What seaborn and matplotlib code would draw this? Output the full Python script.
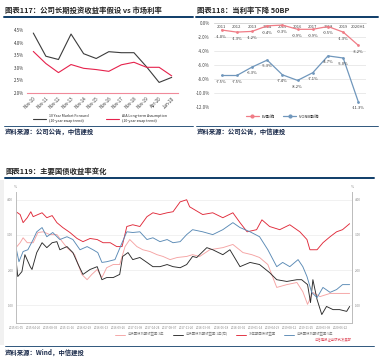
import numpy as np
import pandas as pd
import seaborn as sns
from matplotlib import pyplot as plt
from matplotlib.lines import Line2D
from matplotlib.patches import Rectangle

# ---- chart 117 data
aia_dates = ["Nov-10", "Nov-11", "Nov-12", "Nov-13", "Nov-14", "Nov-15",
             "Nov-16", "Nov-17", "Nov-18", "Nov-19", "Apr-20", "Jun-20"]
market_fwd = [4.38, 3.46, 3.33, 4.34, 3.56, 3.37, 3.64, 3.60, 3.60, 3.04, 2.42, 2.62]
aia_assume = [3.65, 3.17, 2.81, 3.13, 2.98, 2.93, 2.86, 3.12, 3.22, 3.02, 3.02, 2.68]

# ---- chart 118 data
years = ["2011", "2012", "2013", "2014", "2015", "2016", "2017", "2018", "2019", "2020H1"]
ev_impact = [-1.0, -1.3, -1.2, -0.4, -0.3, -0.9, -0.9, -0.5, -1.3, -3.2]
vonb_impact = [-7.5, -7.5, -6.3, -5.3, -7.4, -8.2, -7.1, -4.7, -5.0, -11.3]

# ---- chart 119 data (decimal year, yield %)
red_t = [2015.00, 2015.07, 2015.12, 2015.19, 2015.25, 2015.29, 2015.37, 2015.44, 2015.52, 2015.61,
         2015.69, 2015.79, 2015.91, 2016.03, 2016.13, 2016.25, 2016.37, 2016.47, 2016.59, 2016.70,
         2016.79, 2016.87, 2016.97, 2017.09, 2017.21, 2017.31, 2017.43, 2017.55, 2017.65, 2017.77,
         2017.88, 2017.93, 2018.15, 2018.32, 2018.49, 2018.66, 2018.78, 2018.90, 2019.06, 2019.15,
         2019.28, 2019.45, 2019.62, 2019.79, 2019.91, 2019.96, 2020.08, 2020.18, 2020.30, 2020.41,
         2020.51, 2020.63]
red_v = [3.66, 3.58, 3.35, 3.49, 3.66, 3.52, 3.58, 3.63, 3.49, 3.55,
         3.35, 3.21, 3.07, 2.90, 2.81, 2.90, 2.87, 2.78, 2.78, 2.67,
         2.67, 3.24, 3.29, 3.24, 3.52, 3.63, 3.58, 3.63, 3.66, 3.94,
         4.00, 3.80, 3.58, 3.63, 3.49, 3.63, 3.35, 3.09, 3.15, 3.43,
         3.24, 3.15, 3.29, 3.09, 2.87, 2.58, 2.58, 2.78, 2.95, 3.09,
         3.15, 3.32]

blue_t = [2015.00, 2015.05, 2015.12, 2015.20, 2015.29, 2015.35, 2015.44, 2015.52, 2015.62, 2015.74,
          2015.86, 2015.96, 2016.08, 2016.20, 2016.30, 2016.38, 2016.45, 2016.53, 2016.67, 2016.79,
          2016.87, 2016.97, 2017.09, 2017.21, 2017.31, 2017.43, 2017.55, 2017.65, 2017.77, 2017.88,
          2017.98, 2018.15, 2018.32, 2018.49, 2018.66, 2018.78, 2018.95, 2019.11, 2019.25, 2019.40,
          2019.50, 2019.62, 2019.76, 2019.84, 2019.91, 2019.99, 2020.08, 2020.18, 2020.30, 2020.41,
          2020.51, 2020.63]
blue_v = [2.64, 2.24, 2.53, 2.58, 2.87, 3.09, 3.21, 2.95, 3.07, 2.87,
          2.95, 2.87, 2.58, 2.67, 2.58, 2.50, 2.22, 2.24, 2.30, 2.78,
          3.09, 3.07, 3.09, 2.87, 2.92, 2.81, 2.87, 2.78, 2.81, 3.01,
          3.15, 3.09, 3.01, 3.15, 3.35, 3.21, 3.09, 2.95, 2.58, 2.10,
          2.22, 2.10, 2.30, 2.10, 1.82, 1.37, 1.22, 1.51, 1.37, 1.45,
          1.59, 1.59]

pink_t = [2015.00, 2015.07, 2015.12, 2015.19, 2015.29, 2015.37, 2015.46, 2015.57, 2015.69, 2015.78,
          2015.86, 2015.99, 2016.11, 2016.20, 2016.28, 2016.37, 2016.45, 2016.53, 2016.64, 2016.75,
          2016.84, 2016.92, 2017.04, 2017.14, 2017.26, 2017.38, 2017.48, 2017.60, 2017.72, 2017.88,
          2017.98, 2018.10, 2018.27, 2018.49, 2018.66, 2018.83, 2018.98, 2019.11, 2019.25, 2019.40,
          2019.57, 2019.74, 2019.84, 2019.92, 2020.01, 2020.13, 2020.30, 2020.46, 2020.63]
pink_v = [2.64, 2.78, 2.92, 2.78, 2.78, 3.07, 3.09, 3.01, 3.01, 2.81,
          2.64, 2.44, 1.88, 1.73, 1.88, 2.02, 1.79, 2.07, 2.16, 2.16,
          2.67, 2.87, 2.67, 2.58, 2.53, 2.44, 2.39, 2.30, 2.36, 2.39,
          2.44, 2.39, 2.58, 2.64, 2.73, 2.50, 2.44, 2.36, 2.16, 1.51,
          1.59, 1.65, 1.39, 1.03, 1.37, 1.25, 1.34, 1.34, 1.34]

black_t = [2015.00, 2015.03, 2015.10, 2015.15, 2015.24, 2015.27, 2015.35, 2015.44, 2015.52, 2015.61,
           2015.69, 2015.74, 2015.86, 2015.96, 2016.05, 2016.13, 2016.25, 2016.37, 2016.45, 2016.53,
           2016.64, 2016.75, 2016.80, 2016.89, 2016.97, 2017.09, 2017.21, 2017.31, 2017.43, 2017.55,
           2017.65, 2017.77, 2017.88, 2017.98, 2018.05, 2018.22, 2018.32, 2018.49, 2018.61, 2018.78,
           2018.95, 2019.11, 2019.28, 2019.40, 2019.57, 2019.74, 2019.82, 2019.92, 2019.97, 2020.01,
           2020.08, 2020.16, 2020.24, 2020.35, 2020.46, 2020.58, 2020.63]
black_v = [2.30, 1.82, 1.96, 2.44, 2.10, 2.02, 2.50, 2.78, 2.64, 2.78,
           2.81, 2.58, 2.67, 2.50, 2.16, 1.88, 2.02, 2.10, 1.73, 1.79,
           1.79, 1.88, 2.39, 2.50, 2.30, 2.36, 2.22, 2.10, 2.10, 2.16,
           2.10, 2.07, 2.16, 2.39, 2.36, 2.64, 2.58, 2.44, 2.58, 2.10,
           2.22, 2.16, 1.93, 1.73, 1.68, 1.73, 1.73, 1.59, 1.08, 1.73,
           1.17, 0.74, 0.97, 0.88, 0.88, 0.83, 0.97]

bond_ticks = ["2015-01-05", "2015-04-20", "2015-08-03", "2015-11-16", "2016-02-29",
              "2016-06-13", "2016-09-26", "2017-01-09", "2017-04-24", "2017-08-07",
              "2017-11-20", "2018-03-05", "2018-06-18", "2018-10-01", "2019-01-14",
              "2019-04-29", "2019-08-12", "2019-11-25", "2020-03-09", "2020-06-22"]
bond_names = ["中债国债到期收益率:3年", "中债国债到期收益率:1年(右)",
              "10年期国债收益率", "中债国债到期收益率:5年"]

W, H = 385, 359
NAVY = "#0E3C68"

sns.set_theme(style="white")
plt.rcParams['font.family'] = ['Noto Sans CJK SC', 'DejaVu Sans']
plt.rcParams['axes.unicode_minus'] = False

fig = plt.figure(figsize=(W / 100, H / 100), dpi=100)
fig.patch.set_facecolor("white")


def box(l, t, r, b):
    return fig.add_axes([l / W, 1 - b / H, (r - l) / W, (b - t) / H])


def ftext(x, y, s, **kw):
    fig.text(x / W, 1 - y / H, s, **kw)


def hline(x0, x1, y, lw, color=NAVY):
    fig.add_artist(Line2D([x0 / W, x1 / W], [1 - y / H, 1 - y / H], color=color, lw=lw))


# faint page-edge shadow on the left
fig.add_artist(Rectangle((0, 1 - 345 / H), 4 / W, 165 / H, transform=fig.transFigure,
                         color="#f1f1f1", lw=0, zorder=-1))

# headers / footers
ftext(5, 10, "图表117：公司长期投资收益率假设 vs 市场利率", fontsize=5.3, fontweight="bold", va="center")
ftext(197, 10, "图表118：当利率下降 50BP", fontsize=5.3, fontweight="bold", va="center")
ftext(5, 171, "图表119：主要国债收益率变化", fontsize=5.3, fontweight="bold", va="center")
hline(4, 193, 16.5, 1.4)
hline(196, 378, 16.5, 1.4)
hline(5, 374, 178, 1.4)
hline(4, 193, 126, 0.6)
hline(196, 378, 126, 0.6)
hline(5, 374, 345.5, 0.6)
ftext(5, 132.5, "资料来源：公司公告，中信建投", fontsize=4.6, fontweight="bold", style="italic",
      color="#1a2a4a", va="center")
ftext(197, 132.5, "资料来源：公司公告，中信建投", fontsize=4.6, fontweight="bold", style="italic",
      color="#1a2a4a", va="center")
ftext(5, 352.5, "资料来源：Wind，中信建投", fontsize=4.6, fontweight="bold", style="italic",
      color="#1a2a4a", va="center")

# ---- chart 117
ax1 = box(27, 27, 178, 93)
df1 = pd.DataFrame({"date": aia_dates, "fwd": market_fwd, "aia": aia_assume})
sns.lineplot(data=df1, x="date", y="fwd", ax=ax1, color="#3c3c3c", lw=0.8, sort=False)
sns.lineplot(data=df1, x="date", y="aia", ax=ax1, color="#E6224C", lw=0.8, sort=False)
ax1.set_ylim(2.0, 4.62)
ax1.set_xlim(-0.5, len(aia_dates) - 0.5)
ax1.set_yticks([2.0, 2.5, 3.0, 3.5, 4.0, 4.5])
ax1.set_yticklabels([f"{v:.1f}%" for v in [2.0, 2.5, 3.0, 3.5, 4.0, 4.5]])
ax1.set_xticks(range(len(aia_dates)))
ax1.set_xticklabels(aia_dates, rotation=45, ha="right", rotation_mode="anchor")
ax1.tick_params(axis="both", labelsize=3.2, length=0, pad=2, colors="#333333")
ax1.set_xlabel("")
ax1.set_ylabel("")
for s in ["top", "right", "left"]:
    ax1.spines[s].set_visible(False)
ax1.spines["bottom"].set_color("#F08A9A")
ax1.spines["bottom"].set_linewidth(0.8)
ax1.legend(handles=[Line2D([], [], color="#3c3c3c", lw=0.8), Line2D([], [], color="#E6224C", lw=0.8)],
           labels=["10 Year Market Forward\n(10-year swap trend)", "AIA Long-term Assumption\n(10-year swap trend)"],
           loc="upper left", bbox_to_anchor=(0.02, -0.27), ncol=2, fontsize=2.6, frameon=False,
           handlelength=3.5, columnspacing=5, handletextpad=0.8)

# ---- chart 118
ax2 = box(214, 23, 366, 107)
df2 = pd.DataFrame({"year": years, "ev": ev_impact, "vonb": vonb_impact})
sns.lineplot(data=df2, x="year", y="ev", ax=ax2, color="#F07C86", lw=0.9, marker="o",
             markersize=2, markeredgewidth=0, sort=False)
sns.lineplot(data=df2, x="year", y="vonb", ax=ax2, color="#7097BC", lw=0.9, marker="o",
             markersize=2, markeredgewidth=0, sort=False)
ax2.set_ylim(-12.0, 0.0)
ax2.set_xlim(-0.5, len(years) - 0.5)
ax2.set_yticks(np.arange(-12, 1, 2))
ax2.set_yticklabels([f"{v:.1f}%" for v in np.arange(-12, 1, 2)])
ax2.set_xticks(range(len(years)))
ax2.set_xticklabels(years)
ax2.grid(axis="y", color="#e2e2e2", lw=0.5)
ax2.tick_params(axis="y", labelsize=3.2, length=0, pad=3, colors="#444444")
ax2.tick_params(axis="x", labelsize=3.0, length=0, pad=1.5, colors="#444444")
ax2.set_xlabel("")
ax2.set_ylabel("")
for s in ["top", "right", "left"]:
    ax2.spines[s].set_visible(False)
ax2.spines["bottom"].set_position(("data", 0))
ax2.spines["bottom"].set_color("#d0d0d0")
ax2.spines["bottom"].set_linewidth(0.5)
for i, v in enumerate(ev_impact):
    ax2.annotate(f"{v:.1f}%", (i, v), xytext=(0, -3.5), textcoords="offset points",
                 ha="center", va="top", fontsize=2.9, color="#333333")
for i, v in enumerate(vonb_impact):
    ax2.annotate(f"{v:.1f}%", (i, v), xytext=(0, -3), textcoords="offset points",
                 ha="center", va="top", fontsize=2.9, color="#333333")
ax2.legend(handles=[Line2D([], [], color="#F07C86", lw=0.9, marker="o", markersize=2),
                    Line2D([], [], color="#7097BC", lw=0.9, marker="o", markersize=2)],
           labels=["EV影响", "VONB影响"], loc="upper center", bbox_to_anchor=(0.45, -0.05),
           ncol=2, fontsize=3, frameon=False, handlelength=3, columnspacing=2)

# ---- chart 119
ax3 = box(16, 192, 352, 323)
series = [(pink_t, pink_v, "#F5A3A3"), (black_t, black_v, "#2b2b2b"),
          (red_t, red_v, "#E02A3A"), (blue_t, blue_v, "#5A8AB5")]
for (t, v, c), name in zip(series, bond_names):
    sns.lineplot(x=t, y=v, ax=ax3, color=c, lw=0.65, label=name, sort=False)
ax3.set_ylim(0.5, 4.22)
ax3.set_xlim(2015.0, 2020.67)
tick_pos = [d.year + (d.dayofyear - 1) / 365.25 for d in pd.to_datetime(bond_ticks)]
ax3.set_xticks(tick_pos)
ax3.set_xticklabels(bond_ticks)
ax3.set_yticks([1, 2, 3, 4])
ax3.set_yticklabels(["1.00", "2.00", "3.00", "4.00"])
ax3.grid(axis="y", color="#ececec", lw=0.5)
ax3.tick_params(axis="both", labelsize=2.2, length=0, pad=2, colors="#888888")
for s in ["left", "bottom", "right"]:
    ax3.spines[s].set_color("#bdbdbd")
    ax3.spines[s].set_linewidth(0.7)
ax3.spines["top"].set_visible(False)
ax3r = ax3.twinx()
ax3r.set_ylim(ax3.get_ylim())
ax3r.set_yticks([1, 2, 3, 4])
ax3r.set_yticklabels(["1.00", "2.00", "3.00", "4.00"])
ax3r.tick_params(axis="y", labelsize=2.2, length=0, pad=2, colors="#888888")
for s in ["left", "bottom", "top"]:
    ax3r.spines[s].set_visible(False)
ax3r.spines["right"].set_color("#bdbdbd")
ax3r.spines["right"].set_linewidth(0.7)
ax3.legend(loc="upper center", bbox_to_anchor=(0.62, -0.05), ncol=4, fontsize=2.4,
           frameon=False, handlelength=3, columnspacing=2.5, labelcolor="#777777")
ftext(15, 187, "%", fontsize=2.5, color="#888888", ha="center", va="center")
ftext(352, 187, "%", fontsize=2.5, color="#888888", ha="center", va="center")
ftext(352, 340, "中信建投证券研究发展部", fontsize=2.4, color="#E05060", ha="right", va="center")

fig.savefig("out.png", dpi=100, facecolor="white")
